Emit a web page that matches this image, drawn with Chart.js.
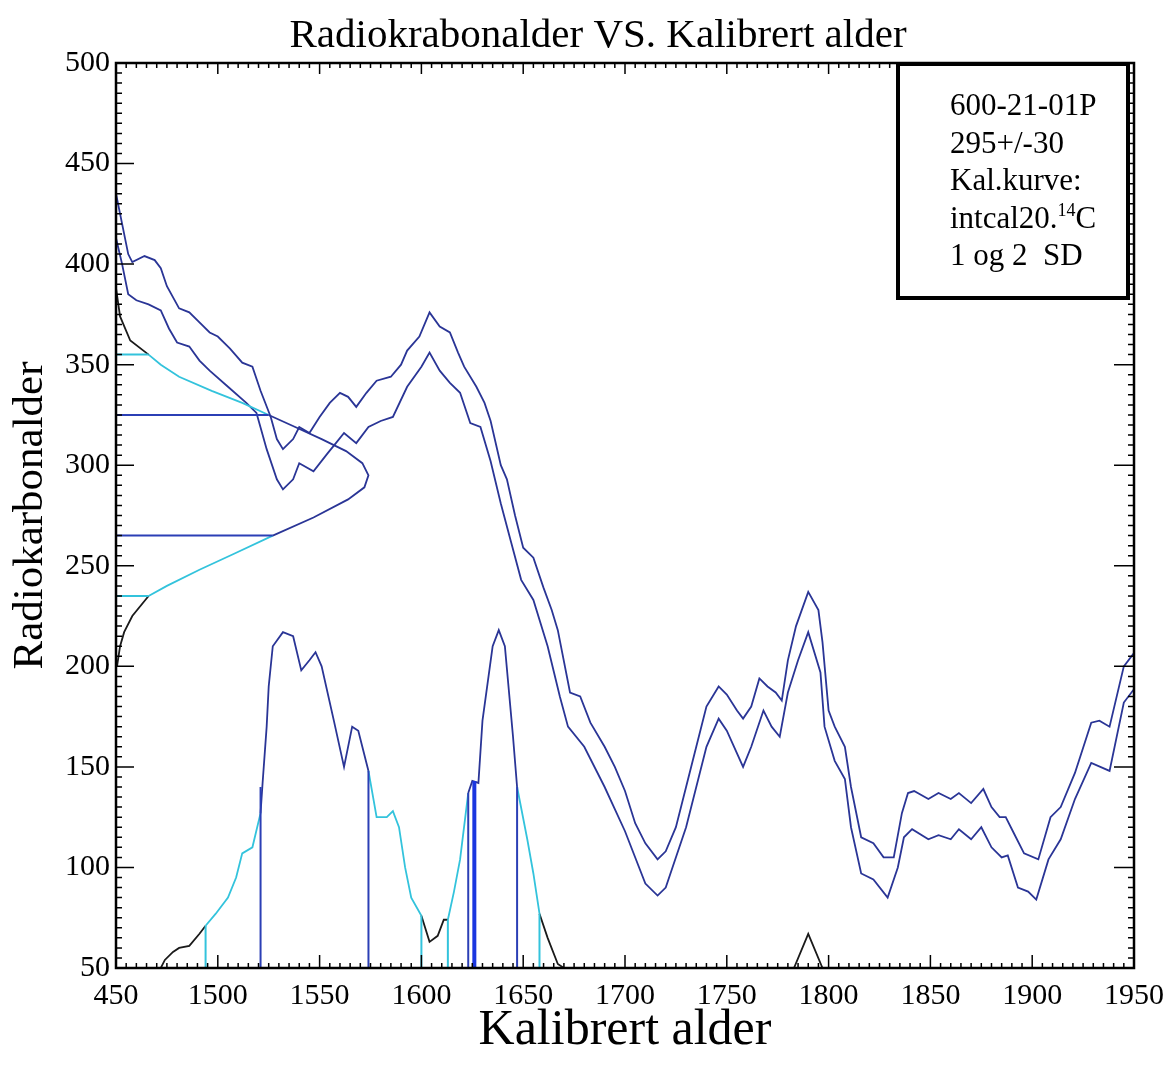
<!DOCTYPE html>
<html>
<head>
<meta charset="utf-8">
<script src="https://cdn.jsdelivr.net/npm/chart.js@4.4.1/dist/chart.umd.min.js"></script>
<style>
  html, body { margin: 0; padding: 0; background: #fff; }
</style>
</head>
<body>
<canvas id="grafico" width="1175" height="1066"></canvas>
<script>
// ---------------- DATOS ----------------

// curva de calibracion (banda superior)
const calAniosSup = [1450, 1453, 1456, 1458, 1464, 1469, 1472, 1475, 1481, 1486, 1491, 1496, 1500, 1506, 1512, 1517,
  1521, 1526, 1529, 1532, 1537, 1540, 1545, 1550, 1555, 1560, 1564, 1568, 1573, 1578, 1585, 1590, 1593, 1599, 1604,
  1609, 1614, 1618, 1621, 1627, 1631, 1634, 1639, 1642, 1646, 1650, 1655, 1660, 1664, 1667, 1673, 1678, 1683, 1690,
  1695, 1700, 1705, 1710, 1716, 1720, 1725, 1730, 1735, 1740, 1746, 1750, 1755, 1758, 1762, 1766, 1770, 1774, 1777,
  1780, 1784, 1790, 1795, 1797, 1800, 1803, 1808, 1811, 1816, 1822, 1827, 1832, 1836, 1839, 1842, 1849, 1854, 1860,
  1864, 1870, 1876, 1880, 1884, 1887, 1891, 1896, 1903, 1909, 1914, 1921, 1929, 1933, 1938, 1945, 1951];
const calSup = [435, 420, 405, 401, 404, 402, 398, 389, 378, 376, 371, 366, 364, 358, 351, 349,
  337, 324, 313, 308, 313, 319, 316, 324, 331, 336, 334, 329, 336, 342, 344, 350, 357, 364, 376,
  369, 366, 356, 349, 339, 331, 322, 300, 293, 275, 259, 254, 239, 228, 218, 187, 185, 172, 160,
  150, 138, 122, 112, 104, 108, 120, 140, 160, 180, 190, 186, 178, 174, 180, 194, 190, 187, 183,
  203, 220, 237, 228, 212, 178, 170, 160, 140, 115, 112, 105, 105, 127, 137, 138, 134, 137, 134,
  137, 132, 139, 130, 125, 125, 117, 107, 104, 125, 130, 147, 172, 173, 170, 200, 208];

// curva de calibracion (banda inferior)
const calAniosInf = [1450, 1453, 1456, 1460, 1466, 1472, 1476, 1480, 1486, 1491, 1496, 1505, 1514, 1519, 1524, 1529,
  1532, 1537, 1540, 1547, 1554, 1558, 1562, 1568, 1574, 1580, 1586, 1593, 1600, 1604, 1609, 1614, 1619, 1624, 1629,
  1634, 1639, 1644, 1649, 1655, 1662, 1668, 1672, 1680, 1690, 1700, 1710, 1716, 1720, 1730, 1740, 1746, 1750, 1758,
  1762, 1768, 1772, 1776, 1780, 1785, 1790, 1796, 1798, 1803, 1808, 1811, 1816, 1822, 1829, 1834, 1837, 1841, 1849,
  1854, 1860, 1864, 1870, 1875, 1880, 1885, 1888, 1893, 1898, 1902, 1908, 1914, 1921, 1929, 1938, 1945, 1951];
const calInf = [413, 400, 385, 382, 380, 377, 368, 361, 359, 352, 347, 339, 331, 326, 308, 293,
  288, 293, 301, 297, 306, 311, 316, 311, 319, 322, 324, 339, 349, 356, 347, 341, 336, 321, 319,
  302, 281, 262, 243, 233, 210, 185, 170, 160, 140, 118, 92, 86, 90, 120, 160, 174, 168, 150,
  160, 178, 170, 165, 187, 203, 217, 197, 170, 153, 144, 120, 97, 94, 85, 100, 115, 119, 114,
  116, 114, 119, 114, 120, 110, 105, 106, 90, 88, 84, 104, 114, 134, 152, 148, 182, 190];

// distribucion de probabilidad calibrada (abajo)
const distAnios = [1455, 1472, 1474, 1478, 1481, 1486, 1491, 1494, 1499, 1505, 1509, 1512, 1517, 1521, 1522, 1524,
  1525, 1527, 1532, 1537, 1541, 1545, 1548, 1551, 1557, 1562, 1566, 1569, 1574, 1578, 1583, 1586, 1589, 1592, 1595,
  1600, 1604, 1608, 1611, 1613, 1616, 1619, 1623, 1625, 1628, 1630, 1635, 1638, 1641, 1645, 1647, 1652, 1655, 1658,
  1662, 1667, 1670, 1780, 1783, 1790, 1797, 1950];
const distProb = [50, 50, 54, 58, 60, 61, 67, 71, 77, 85, 95, 107, 110, 127, 142, 170,
  190, 210, 217, 215, 198, 203, 207, 200, 173, 150, 170, 168, 148, 125, 125, 128, 120, 100, 85,
  76, 63, 66, 74, 74, 88, 104, 137, 143, 142, 173, 210, 218, 210, 165, 140, 114, 97, 77,
  65, 52, 50, 50, 50, 67, 50, 50];

// rangos calibrados 1 y 2 SD
const rangos1SD = [[1521, 1574], [1623, 1647]];
const rangos2SD = [[1494, 1600], [1613, 1658]];
const lineas1SDAnio = [1521, 1574, 1623, 1647];
const lineas1SDAlto = [140, 148, 137, 140];
const lineaGruesaAnio = [1626];
const lineaGruesaAlto = [143];
const lineas2SDAnio = [1494, 1600, 1613, 1658];
const lineas2SDAlto = [71, 76, 74, 77];

// distribucion normal de la edad radiocarbono (izquierda)
const normC14 = [200, 210, 217, 225, 235, 240, 248, 256, 265, 274, 283, 289, 295, 301, 307, 313, 319, 325, 331, 337,
  344, 350, 355, 362, 374, 388];
const normAnio = [1450.5, 1452, 1454, 1458, 1466, 1475, 1491, 1508, 1527, 1547, 1564, 1572, 1574, 1571, 1563, 1551,
  1538, 1525, 1512, 1497, 1481, 1472, 1466, 1457, 1452, 1450];
const limites1SD = [265, 325];
const limites1SDFin = [1527, 1525];
const limites2SD = [235, 355];
const limites2SDFin = [1466, 1466];

// ejes y textos
const xTicks = ['450', '1500', '1550', '1600', '1650', '1700', '1750', '1800', '1850', '1900', '1950'];
const leyenda = ['600-21-01P', '295+/-30', 'Kal.kurve:', 'intcal20.', '1 og 2  SD'];

// ---------------- COLORES ----------------
const AZUL = '#2a3596';
const AZUL_V = '#2b3fb5';
const AZUL_G = '#1a36e0';
const CIAN = '#33c3dc';
const NEGRO = '#1a1a1a';
const FUENTE = '"Liberation Serif", "Times New Roman", serif';

function colorAnio(x) {
  if (rangos1SD.some(r => x >= r[0] && x <= r[1])) return AZUL;
  if (rangos2SD.some(r => x >= r[0] && x <= r[1])) return CIAN;
  return NEGRO;
}
function colorC14(y) {
  if (y >= limites1SD[0] && y <= limites1SD[1]) return AZUL;
  if (y >= limites2SD[0] && y <= limites2SD[1]) return CIAN;
  return NEGRO;
}

const pts = (xs, ys) => xs.map((x, i) => ({ x: x, y: ys[i] }));
const linea = (data, color, ancho) => ({ data: data, borderColor: color, borderWidth: ancho, showLine: true, pointRadius: 0, fill: false });

const datasets = [];

// lineas verticales de rangos
lineas2SDAnio.forEach((a, i) => datasets.push(linea([{ x: a, y: 50 }, { x: a, y: lineas2SDAlto[i] }], CIAN, 2)));
lineas1SDAnio.forEach((a, i) => datasets.push(linea([{ x: a, y: 50 }, { x: a, y: lineas1SDAlto[i] }], AZUL_V, 2)));
lineaGruesaAnio.forEach((a, i) => datasets.push(linea([{ x: a, y: 50 }, { x: a, y: lineaGruesaAlto[i] }], AZUL_G, 4)));

// lineas horizontales de la normal
limites2SD.forEach((c, i) => datasets.push(linea([{ x: 1450, y: c }, { x: limites2SDFin[i], y: c }], CIAN, 2)));
limites1SD.forEach((c, i) => datasets.push(linea([{ x: 1450, y: c }, { x: limites1SDFin[i], y: c }], AZUL_V, 2)));

// distribucion calibrada
const dsDist = linea(pts(distAnios, distProb), NEGRO, 1.8);
dsDist.segment = { borderColor: c => colorAnio((c.p0.parsed.x + c.p1.parsed.x) / 2) };
datasets.push(dsDist);

// normal
const dsNorm = linea(pts(normAnio, normC14), NEGRO, 1.8);
dsNorm.segment = { borderColor: c => colorC14((c.p0.parsed.y + c.p1.parsed.y) / 2) };
datasets.push(dsNorm);

// curva de calibracion
datasets.push(linea(pts(calAniosSup, calSup), AZUL, 1.8));
datasets.push(linea(pts(calAniosInf, calInf), AZUL, 1.8));

// ---------------- PLUGIN: marco, ticks internos, titulo, leyenda ----------------
const marco = {
  id: 'marco',
  afterDraw(chart) {
    const { ctx, chartArea: a, scales: { x, y } } = chart;
    ctx.save();
    ctx.strokeStyle = '#000';
    ctx.lineWidth = 1.5;
    ctx.beginPath();
    for (let v = 1450; v <= 1950; v += 5) {
      const px = x.getPixelForValue(v);
      const mayor = v % 50 === 0;
      ctx.moveTo(px, a.bottom); ctx.lineTo(px, a.bottom - (mayor ? 13 : 5));
      ctx.moveTo(px, a.top); ctx.lineTo(px, a.top + (mayor ? 11 : 5));
    }
    for (let v = 50; v <= 500; v += 5) {
      const py = y.getPixelForValue(v);
      const mayor = v % 50 === 0;
      ctx.moveTo(a.left, py); ctx.lineTo(a.left + (mayor ? 18 : 6), py);
      ctx.moveTo(a.right, py); ctx.lineTo(a.right - (mayor ? 20 : 6), py);
    }
    ctx.stroke();
    ctx.lineWidth = 2.5;
    ctx.strokeRect(a.left, a.top, a.right - a.left, a.bottom - a.top);

    // titulo
    ctx.fillStyle = '#000';
    ctx.font = '41px ' + FUENTE;
    ctx.textAlign = 'center';
    ctx.textBaseline = 'alphabetic';
    ctx.fillText('Radiokrabonalder VS. Kalibrert alder', 598, 47);

    // cuadro de leyenda
    const bx = 898, by = 64, bw = 230, bh = 234;
    ctx.fillStyle = '#fff';
    ctx.fillRect(bx, by, bw, bh);
    ctx.lineWidth = 4;
    ctx.strokeRect(bx, by, bw, bh);
    ctx.fillStyle = '#000';
    ctx.textAlign = 'left';
    const tx = 950;
    leyenda.forEach((t, i) => {
      const ty = 115 + i * 37.5;
      ctx.font = '31px ' + FUENTE;
      ctx.fillText(t, tx, ty);
      if (i === 3) {
        let w = ctx.measureText(t).width;
        ctx.font = '18px ' + FUENTE;
        ctx.fillText('14', tx + w, ty - 12);
        w += ctx.measureText('14').width;
        ctx.font = '31px ' + FUENTE;
        ctx.fillText('C', tx + w, ty);
      }
    });
    ctx.restore();
  }
};

new Chart(document.getElementById('grafico'), {
  type: 'scatter',
  data: { datasets: datasets },
  options: {
    responsive: false,
    animation: false,
    layout: { padding: { top: 63, right: 41, left: 0, bottom: 0 } },
    plugins: { legend: { display: false }, tooltip: { enabled: false } },
    scales: {
      x: {
        type: 'linear', min: 1450, max: 1950,
        afterFit: s => { s.height = 98; },
        grid: { display: false, drawTicks: false },
        border: { display: false },
        ticks: {
          stepSize: 50, padding: 10, color: '#000', maxRotation: 0,
          font: { family: FUENTE, size: 30 },
          callback: (v, i) => xTicks[i]
        },
        title: { display: true, text: 'Kalibrert alder', color: '#000', font: { family: FUENTE, size: 50 }, padding: { top: 0, bottom: 5 } }
      },
      y: {
        type: 'linear', min: 50, max: 500,
        afterFit: s => { s.width = 116; },
        grid: { display: false, drawTicks: false },
        border: { display: false },
        ticks: { stepSize: 50, padding: 6, color: '#000', font: { family: FUENTE, size: 30 } },
        title: { display: true, text: 'Radiokarbonalder', color: '#000', font: { family: FUENTE, size: 43 }, padding: { top: 5, bottom: 0 } }
      }
    }
  },
  plugins: [marco]
});
</script>
</body>
</html>
